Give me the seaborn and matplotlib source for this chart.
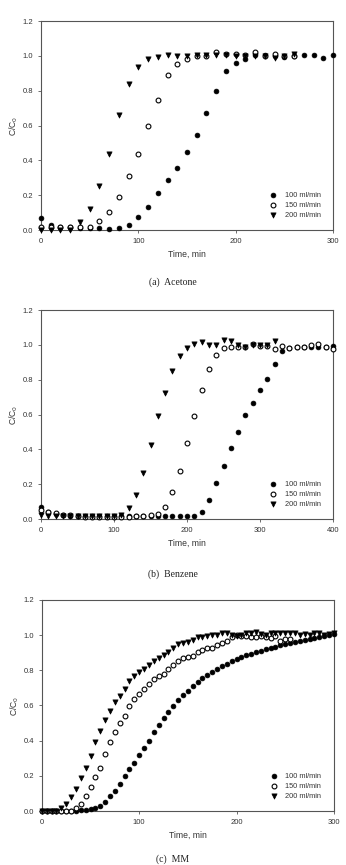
import numpy as np
import pandas as pd
import matplotlib
matplotlib.use("Agg")
import matplotlib.pyplot as plt
import seaborn as sns

sns.set_theme(style="white")
plt.rcParams['font.family'] = ['Liberation Sans', 'DejaVu Sans']

# ---------------- (a) Acetone ----------------
ac_t100 = list(range(0, 301, 10))
ac_c100 = [0.067, 0.03, 0.02, 0.015, 0.01, 0.01, 0.01, 0.008, 0.01, 0.03, 0.073,
           0.13, 0.213, 0.29, 0.356, 0.45, 0.545, 0.67, 0.80, 0.913, 0.957,
           0.98, 1.008, 1.003, 1.0, 0.995, 1.0, 1.005, 1.003, 0.99, 1.008]
ac_t150 = list(range(0, 261, 10))
ac_c150 = [0.02, 0.02, 0.02, 0.018, 0.018, 0.02, 0.05, 0.105, 0.19, 0.31, 0.436,
           0.60, 0.746, 0.888, 0.955, 0.982, 1.0, 1.0, 1.02, 1.012, 1.01,
           1.005, 1.022, 1.0, 1.012, 1.0, 1.0]
ac_t200 = list(range(0, 261, 10))
ac_c200 = [0.0, 0.0, 0.0, 0.0, 0.046, 0.12, 0.255, 0.438, 0.662, 0.84, 0.934,
           0.982, 0.995, 1.005, 1.0, 1.0, 1.007, 1.005, 1.005, 1.003, 1.0,
           1.0, 1.0, 1.0, 0.99, 1.0, 1.01]

# ---------------- (b) Benzene ----------------
bz_t100 = list(range(0, 401, 10))
bz_c100 = [0.067, 0.04, 0.03, 0.025, 0.02, 0.02, 0.018, 0.018, 0.018, 0.015, 0.015,
           0.015, 0.015, 0.015, 0.015, 0.015, 0.015, 0.015, 0.015, 0.015, 0.015,
           0.015, 0.04, 0.109, 0.204, 0.304, 0.407, 0.50, 0.596, 0.667, 0.741,
           0.806, 0.892, 0.967, 0.98, 0.985, 0.985, 0.99, 0.99, 0.99, 0.995]
bz_t150 = list(range(0, 401, 10))
bz_c150 = [0.05, 0.04, 0.035, 0.025, 0.025, 0.02, 0.012, 0.012, 0.012, 0.012, 0.012,
           0.012, 0.012, 0.015, 0.015, 0.025, 0.029, 0.069, 0.153, 0.273, 0.438,
           0.592, 0.741, 0.864, 0.94, 0.984, 0.986, 0.99, 0.99, 1.007, 0.995,
           0.995, 0.975, 0.994, 0.984, 0.99, 0.986, 1.0, 1.003, 0.99, 0.976]
bz_t200 = list(range(0, 321, 10))
bz_c200 = [0.025, 0.02, 0.018, 0.015, 0.015, 0.015, 0.015, 0.015, 0.015, 0.015, 0.018,
           0.025, 0.061, 0.136, 0.266, 0.426, 0.59, 0.724, 0.848, 0.934, 0.982,
           1.007, 1.015, 1.0, 0.998, 1.026, 1.02, 1.0, 0.99, 1.0, 1.0,
           1.0, 1.024]

# ---------------- (c) MM ----------------
mm_t100 = list(range(0, 301, 5))
mm_c100 = [0.0, 0.0, 0.0, 0.0, 0.0, 0.0, 0.0, 0.002, 0.005, 0.008, 0.012, 0.018,
           0.028, 0.05, 0.085, 0.116, 0.155, 0.2, 0.24, 0.275, 0.318, 0.36,
           0.40, 0.447, 0.489, 0.527, 0.563, 0.597, 0.63, 0.658, 0.682, 0.709,
           0.732, 0.755, 0.773, 0.792, 0.81, 0.825, 0.838, 0.851, 0.864, 0.876,
           0.885, 0.895, 0.904, 0.912, 0.919, 0.927, 0.935, 0.942, 0.948, 0.954,
           0.96, 0.965, 0.97, 0.976, 0.985, 0.99, 0.997, 1.0, 1.005]
mm_t150 = list(range(0, 256, 5))
mm_c150 = [0.0, 0.0, 0.0, 0.0, 0.0, 0.0, 0.0, 0.015, 0.038, 0.083, 0.138, 0.195,
           0.246, 0.322, 0.394, 0.449, 0.498, 0.542, 0.599, 0.637, 0.665, 0.696,
           0.72, 0.749, 0.768, 0.781, 0.806, 0.828, 0.851, 0.868, 0.874, 0.883,
           0.902, 0.914, 0.927, 0.929, 0.944, 0.955, 0.967, 0.99, 1.0, 0.997,
           0.995, 0.99, 0.99, 0.995, 0.99, 0.985, 0.995, 0.968, 0.978, 0.978]
mm_t200 = list(range(0, 301, 5))
mm_c200 = [0.0, 0.0, 0.0, 0.0, 0.018, 0.04, 0.08, 0.126, 0.187, 0.246, 0.312, 0.394,
           0.457, 0.517, 0.57, 0.618, 0.652, 0.694, 0.737, 0.768, 0.789, 0.81,
           0.83, 0.853, 0.87, 0.887, 0.906, 0.929, 0.948, 0.955, 0.963, 0.974,
           0.988, 0.99, 0.995, 1.0, 1.0, 1.01, 1.015, 1.0, 0.995, 1.0,
           1.01, 1.015, 1.02, 1.005, 1.0, 1.01, 1.015, 1.015, 1.01, 1.01,
           1.01, 1.0, 1.005, 1.0, 1.015, 1.01, 1.0, 1.005, 1.01]

labels = ["100 ml/min", "150 ml/min", "200 ml/min"]
x_ticks_a = [0, 100, 200, 300]
x_ticks_b = [0, 100, 200, 300, 400]
y_ticks = [0.0, 0.2, 0.4, 0.6, 0.8, 1.0, 1.2]
captions = ["(a)  Acetone", "(b)  Benzene", "(c)  MM"]

panels = [
    dict(t=[ac_t100, ac_t150, ac_t200], c=[ac_c100, ac_c150, ac_c200],
         xmax=300, xt=x_ticks_a, rect=[0.1185, 0.734, 0.844, 0.2416], cap_y=0.674),
    dict(t=[bz_t100, bz_t150, bz_t200], c=[bz_c100, bz_c150, bz_c200],
         xmax=400, xt=x_ticks_b, rect=[0.1185, 0.400, 0.844, 0.2416], cap_y=0.336),
    dict(t=[mm_t100, mm_t150, mm_t200], c=[mm_c100, mm_c150, mm_c200],
         xmax=300, xt=x_ticks_a, rect=[0.121, 0.0624, 0.844, 0.244], cap_y=0.007),
]

fig = plt.figure(figsize=(3.46, 8.65), dpi=100)
txt_col = "#333333"
sp_col = "#555555"

for i, p in enumerate(panels):
    ax = fig.add_axes(p["rect"])
    styles = [
        dict(marker="o", color="black", edgecolor="black", s=12, linewidth=0.5),
        dict(marker="o", color="white", edgecolor="black", s=12, linewidth=0.8),
        dict(marker="v", color="black", edgecolor="black", s=14, linewidth=0.5),
    ]
    for k in range(3):
        df = pd.DataFrame({"t": p["t"][k], "c": p["c"][k]})
        sns.scatterplot(data=df, x="t", y="c", ax=ax, label=labels[k],
                        zorder=3, clip_on=False, **styles[k])
    ax.set_xlim(0, p["xmax"])
    ax.set_ylim(0, 1.2)
    ax.set_xticks(p["xt"])
    ax.set_yticks(y_ticks)
    ax.set_yticklabels([f"{v:.1f}" for v in y_ticks])
    ax.tick_params(axis="both", which="both", direction="out", length=2.5,
                   width=0.6, color=sp_col, labelsize=5.5, labelcolor=txt_col,
                   pad=3, left=True, bottom=True)
    for sp in ax.spines.values():
        sp.set_color(sp_col)
        sp.set_linewidth(0.8)
    ax.set_xlabel("Time, min", fontsize=6.2, color=txt_col, labelpad=4)
    ax.set_ylabel("C/C$_0$", fontsize=6.2, color=txt_col, labelpad=2)
    leg = ax.legend(loc="lower right", frameon=False, fontsize=5.3,
                    bbox_to_anchor=(0.975, 0.03), handletextpad=0.6,
                    labelspacing=0.35, borderaxespad=0.3, markerscale=1.0)
    for t in leg.get_texts():
        t.set_color(txt_col)
    fig.text(0.5, p["cap_y"], captions[i], ha="center", va="center",
             fontsize=7, family=["Liberation Serif", "DejaVu Serif"], color="#222222")

fig.savefig("out.png", dpi=100)
